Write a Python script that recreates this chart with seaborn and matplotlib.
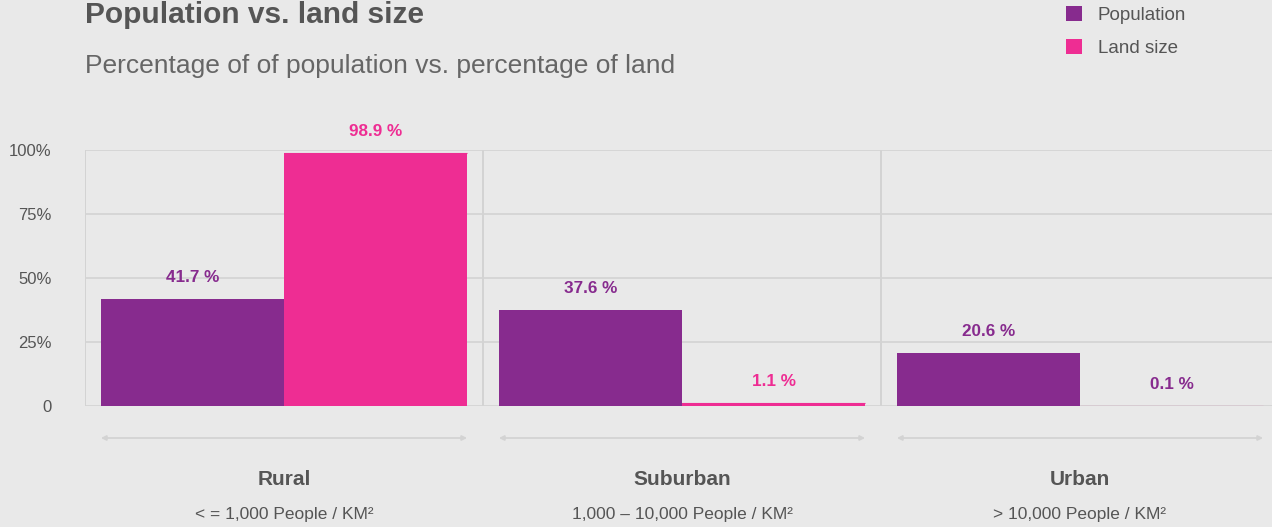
import matplotlib
matplotlib.use("Agg")
import matplotlib.pyplot as plt
import seaborn as sns
import pandas as pd

# ---- data ----
categories = ["Rural", "Suburban", "Urban"]
subtitles = ["< = 1,000 People / KM²", "1,000 – 10,000 People / KM²", "> 10,000 People / KM²"]
population = [41.7, 37.6, 20.6]
land_size = [98.9, 1.1, 0.1]
series_names = ["Population", "Land size"]
ytick_values = [0, 25, 50, 75, 100]
ytick_labels = ["0", "25%", "50%", "75%", "100%"]

PURPLE = "#872B8E"
PINK = "#EE2D93"
BG = "#E9E9E9"
GRID = "#D3D3D3"
TEXT = "#555555"

label_colors = [[PURPLE, PURPLE, PURPLE], [PINK, PINK, PURPLE]]

df = pd.DataFrame({
    "category": categories * 2,
    "series": [series_names[0]] * 3 + [series_names[1]] * 3,
    "value": population + land_size,
})

sns.set_theme(style="white")
plt.rcParams["font.family"] = ["Liberation Sans", "DejaVu Sans"]

fig = plt.figure(figsize=(12.72, 5.27), dpi=100, facecolor=BG)
ax = fig.add_axes([85 / 1272, 121 / 527, 1194 / 1272, 256 / 527])
ax.set_facecolor(BG)

sns.barplot(data=df, x="category", y="value", hue="series", order=categories,
            hue_order=series_names, palette=[PURPLE, PINK], width=0.92,
            linewidth=0, saturation=1, ax=ax, zorder=3, errorbar=None)

ax.set_xlim(-0.5, 2.5)
ax.set_ylim(0, 100)
for s in ax.spines.values():
    s.set_visible(False)

ax.set_yticks(ytick_values)
ax.set_yticklabels(ytick_labels)
ax.tick_params(axis="y", length=0, pad=24, labelsize=12, labelcolor=TEXT)
ax.set_xticks([])
ax.set_xlabel("")
ax.set_ylabel("")
for v in ytick_values:
    ax.axhline(v, color=GRID, lw=1.2, zorder=1)
for xv in [-0.5, 0.5, 1.5]:
    ax.axvline(xv, color=GRID, lw=1.4, zorder=1)

# value labels
vals = [population, land_size]
for si, cont in enumerate(ax.containers):
    for ci, bar in enumerate(cont):
        cx = bar.get_x() + bar.get_width() / 2
        ax.annotate(f"{vals[si][ci]} %", xy=(cx, bar.get_height()),
                    xytext=(0, 15.5), textcoords="offset points",
                    ha="center", va="center", fontsize=12.3, fontweight="bold",
                    color=label_colors[si][ci], annotation_clip=False)
# thin edge line for the near-zero land bar (as rendered in the reference)
for bar in ax.containers[1]:
    ax.hlines(bar.get_height(), bar.get_x(), bar.get_x() + bar.get_width(),
              color=PINK, lw=0.8, zorder=4)

# category arrows & labels
trans = ax.get_xaxis_transform()
for i, (cat, sub) in enumerate(zip(categories, subtitles)):
    ax.annotate("", xy=(i - 0.46, -0.125), xytext=(i + 0.46, -0.125),
                xycoords=trans, textcoords=trans, annotation_clip=False,
                arrowprops=dict(arrowstyle="<|-|>", color=GRID, lw=1.3,
                                mutation_scale=7, shrinkA=0, shrinkB=0))
    ax.text(i, -0.289, cat, transform=trans, ha="center", va="center",
            fontsize=15, fontweight="bold", color=TEXT)
    ax.text(i, -0.422, sub, transform=trans, ha="center", va="center",
            fontsize=12.5, color=TEXT)

# legend
handles, labels = ax.get_legend_handles_labels()
ax.legend(handles, labels, loc="upper left", frameon=False,
          bbox_to_anchor=(1066 / 1272, 1 - 6 / 527), bbox_transform=fig.transFigure,
          fontsize=13.5, handlelength=0.85, handleheight=0.85, handletextpad=0.85,
          labelspacing=0.78, borderpad=0, borderaxespad=0, labelcolor=TEXT)

# titles
fig.text(85 / 1272, 1 - 22.7 / 527, "Population vs. land size", ha="left",
         va="baseline", fontsize=21.5, fontweight="bold", color=TEXT)
fig.text(85 / 1272, 1 - 72.7 / 527, "Percentage of of population vs. percentage of land",
         ha="left", va="baseline", fontsize=19, color="#666666")

fig.savefig("out.png", dpi=100, facecolor=BG)
